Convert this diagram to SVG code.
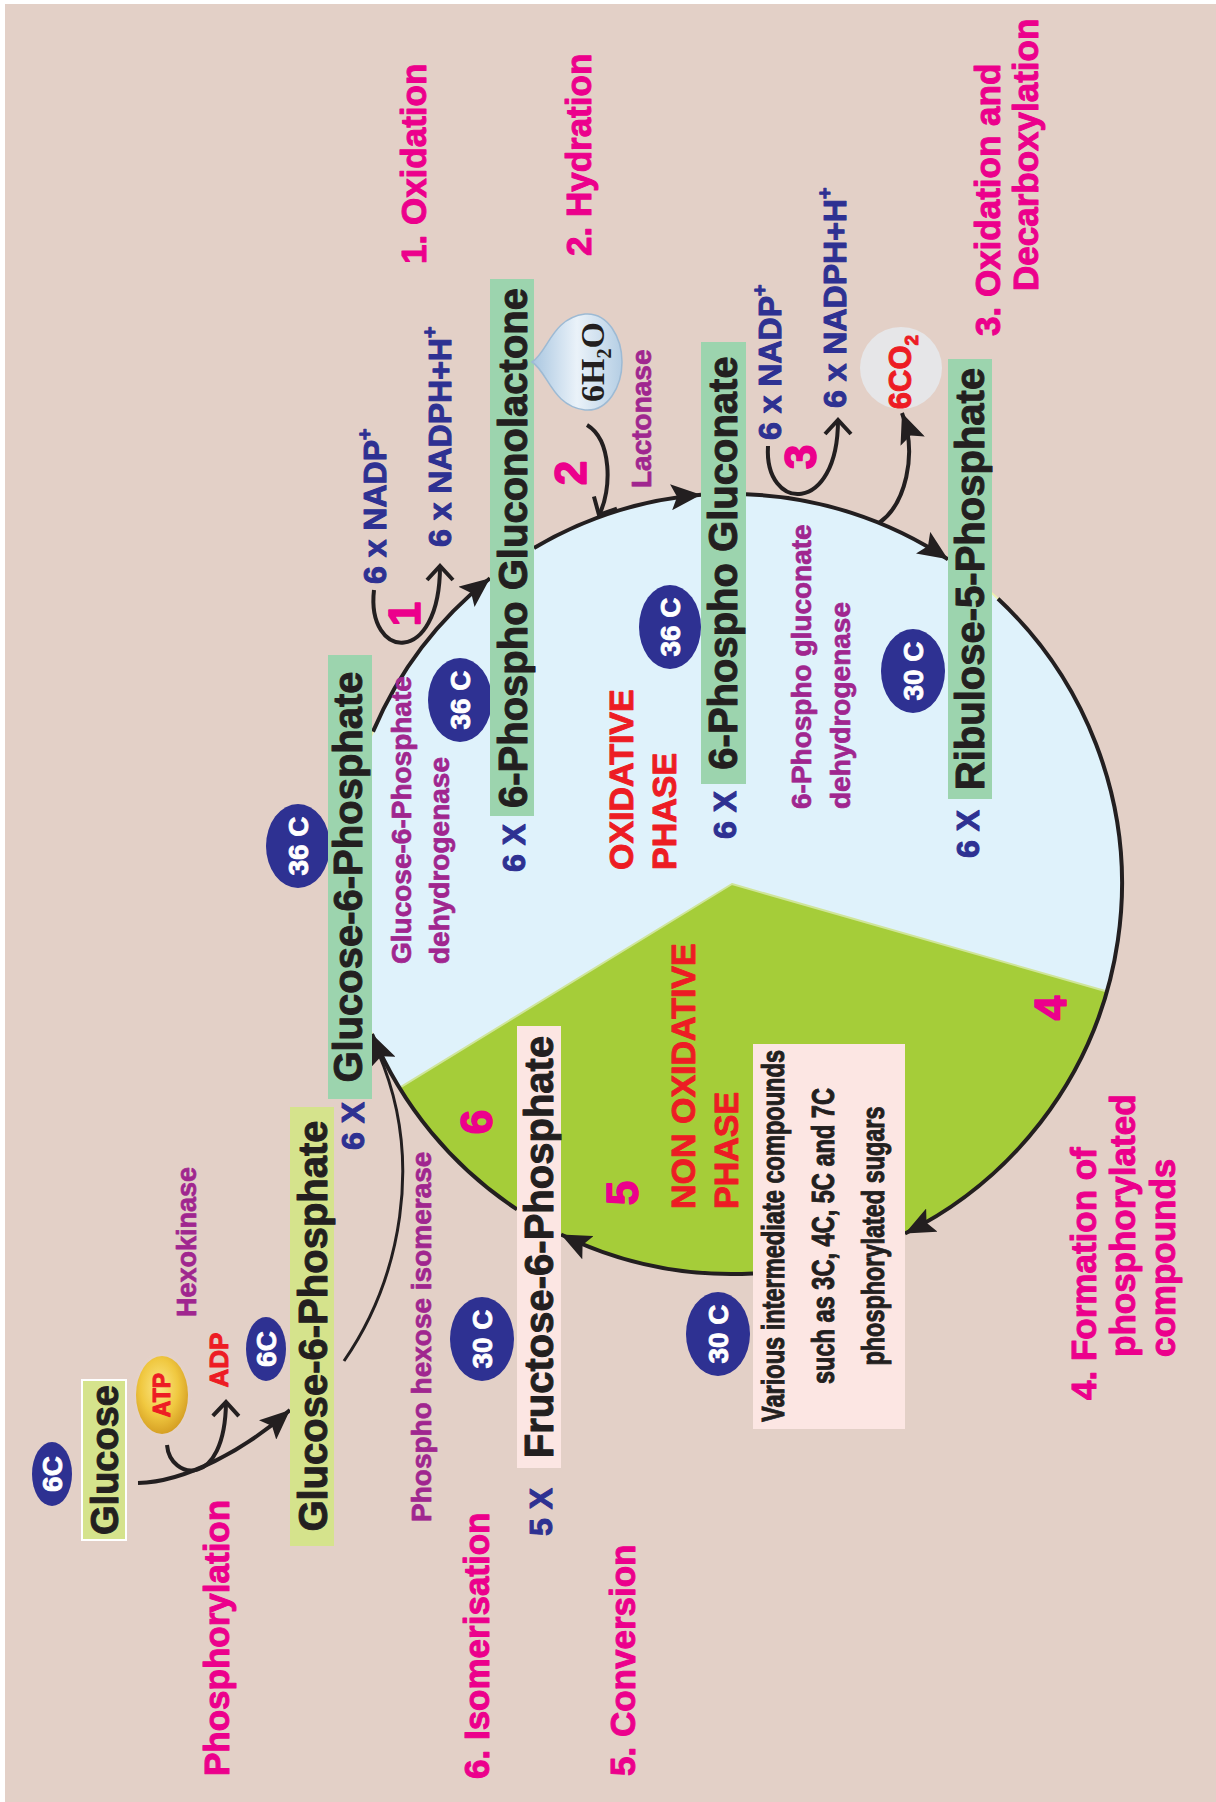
<svg xmlns="http://www.w3.org/2000/svg" width="1216" height="1802" viewBox="0 0 1216 1802">
  <style>
    .t { font-family: "Liberation Sans", Arial, Helvetica, sans-serif; font-weight: bold; stroke-width: 1px; stroke-linejoin: round; }
    .blk { fill: #231f20; stroke: #231f20; font-size: 40px; }
    .pk { fill: #ec008c; stroke: #ec008c; font-size: 35px; }
    .num { fill: #ec008c; stroke: #ec008c; font-size: 44px; stroke-width: 1.6px; }
    .nv { fill: #2e3192; stroke: #2e3192; font-size: 32px; }
    .pu { fill: #a0268f; stroke: #a0268f; font-size: 28px; stroke-width: 0.7px; }
    .rd { fill: #ed1c24; stroke: #ed1c24; font-size: 34px; }
    .wt { fill: #ffffff; stroke: #ffffff; font-size: 28px; stroke-width: 0.8px; }
    .ov { fill: #2e3192; }
    .gbox { fill: #9cd4ae; }
    .ybox { fill: #d5e38c; }
    .pbox { fill: #fce6e3; }
    .ln { fill: none; stroke: #231f20; stroke-width: 4; }
    .thin { fill: none; stroke: #231f20; stroke-width: 3; }
    .narrow { font-family: "Liberation Sans Narrow", "Liberation Sans", Arial, sans-serif; font-weight: bold; fill: #231f20; stroke: #231f20; stroke-width: 1px; font-size: 31px; }
    .srf { font-family: "Liberation Serif", "Times New Roman", serif; font-weight: bold; fill: #231f20; font-size: 34px; }
  </style>
  <defs>
    <marker id="ah" markerUnits="userSpaceOnUse" markerWidth="32" markerHeight="26" refX="30" refY="13" orient="auto">
      <path d="M0,0 L30,13 L0,26 L6,13 Z" fill="#231f20"/>
    </marker>
    <marker id="av" markerUnits="userSpaceOnUse" markerWidth="24" markerHeight="32" refX="18" refY="16" orient="auto">
      <path d="M4,3 L18,16 L4,29" fill="none" stroke="#231f20" stroke-width="4"/>
    </marker>
    <radialGradient id="gold" cx="0.45" cy="0.4" r="0.6">
      <stop offset="0" stop-color="#fbe788"/>
      <stop offset="0.6" stop-color="#f0c840"/>
      <stop offset="1" stop-color="#d6a024"/>
    </radialGradient>
    <radialGradient id="halo" cx="0.5" cy="0.5" r="0.5">
      <stop offset="0.6" stop-color="#f2e4dc" stop-opacity="0.9"/>
      <stop offset="1" stop-color="#e3d0c7" stop-opacity="0"/>
    </radialGradient>
    <linearGradient id="drop" x1="0" y1="0" x2="1" y2="0">
      <stop offset="0" stop-color="#a9c6e0"/>
      <stop offset="0.5" stop-color="#eaf2f9"/>
      <stop offset="1" stop-color="#b5cee4"/>
    </linearGradient>
  </defs>

  <!-- page -->
  <rect x="0" y="0" width="1216" height="1802" fill="#ffffff"/>
  <rect x="5" y="4" width="1211" height="1798" fill="#e3d0c7"/>

  <!-- cycle disc: oxidative (blue) and non-oxidative (green) phases -->
  <g id="cycle-disc">
    <circle cx="732" cy="884" r="390" fill="#dff2fb" stroke="#eef0b0" stroke-width="2"/>
    <path d="M732,884 L1106.9,991.5 A390,390 0 0 1 399.5,1087.8 Z" fill="#a5cd39" stroke="#cfe59a" stroke-width="2"/>
  </g>

  <g id="connectors">
    <!-- cycle arcs -->
    <path class="ln" d="M373,731.6 A390,390 0 0 1 490,578.2" marker-end="url(#ah)"/>
    <path class="ln" d="M534,548 A390,390 0 0 1 701,494.8" marker-end="url(#ah)"/>
    <path class="ln" d="M746,494.3 A390,390 0 0 1 948,559.3" marker-end="url(#ah)"/>
    <path class="ln" d="M998,598.8 A390,390 0 0 1 905,1233.5" marker-end="url(#ah)"/>
    <path class="ln" d="M753,1273.4 A390,390 0 0 1 561,1234.5" marker-end="url(#ah)"/>
    <path class="ln" d="M517,1209.4 A390,390 0 0 1 372,1034" marker-end="url(#ah)"/>
    <!-- glucose phosphorylation -->
    <path class="ln" d="M138,1483 C185,1482 245,1450 290,1410" marker-end="url(#ah)"/>
    <path class="ln" d="M167,1445 C170,1480 225,1490 226,1402" marker-end="url(#av)"/>
    <!-- glucose-6-phosphate into the cycle -->
    <path class="thin" d="M344,1361 C400,1280 425,1160 378,1052"/>
    <!-- step 1 NADP loop -->
    <path class="ln" d="M374,590 C366,660 440,668 440,566" marker-end="url(#av)"/>
    <!-- step 2 water -->
    <path class="ln" d="M587,425 C612,440 612,490 599,515" marker-end="url(#av)"/>
    <!-- step 3 NADP loop and CO2 release -->
    <path class="ln" d="M768,446 C764,512 838,516 838,420" marker-end="url(#av)"/>
    <path class="ln" d="M879,523 C905,505 918,455 902,413" marker-end="url(#ah)"/>
  </g>

  <!-- glucose -->
  <g id="glucose">
    <ellipse class="ov" cx="52" cy="1474" rx="20" ry="32"/>
    <text class="t wt" x="62" y="1474" text-anchor="middle" transform="rotate(-90 62 1474)">6C</text>
    <rect class="ybox" x="82" y="1380" width="44" height="160" stroke="#ffffff" stroke-width="2"/>
    <text class="t blk" style="font-size:38px" x="118" y="1460" text-anchor="middle" transform="rotate(-90 118 1460)">Glucose</text>
  </g>

  <g id="atp">
    <rect x="132" y="1350" width="60" height="90" rx="20" fill="url(#halo)"/>
    <ellipse cx="162" cy="1395" rx="26" ry="39" fill="url(#gold)"/>
    <text class="t" fill="#ed1c24" stroke="#ed1c24" stroke-width="0.6" font-size="23" x="170" y="1395" text-anchor="middle" transform="rotate(-90 170 1395)">ATP</text>
  </g>
  <g id="adp">
    <text class="t" fill="#ed1c24" stroke="#ed1c24" font-size="26" x="228" y="1360" text-anchor="middle" transform="rotate(-90 228 1360)">ADP</text>
  </g>
  <g id="hexokinase">
    <text class="t pu" style="font-size:27px" x="196" y="1317" transform="rotate(-90 196 1317)">Hexokinase</text>
  </g>
  <g id="phosphorylation">
    <text class="t pk" x="229" y="1776" transform="rotate(-90 229 1776)">Phosphorylation</text>
  </g>

  <!-- glucose-6-phosphate (from glucose) -->
  <g id="g6p-start">
    <ellipse class="ov" cx="266" cy="1349" rx="20" ry="32"/>
    <text class="t wt" x="276" y="1349" text-anchor="middle" transform="rotate(-90 276 1349)">6C</text>
    <rect class="ybox" x="290" y="1107" width="44" height="439"/>
    <text class="t blk" x="327" y="1326" text-anchor="middle" transform="rotate(-90 327 1326)">Glucose-6-Phosphate</text>
  </g>

  <!-- glucose-6-phosphate in the cycle -->
  <g id="g6p">
    <ellipse class="ov" cx="298" cy="846" rx="32" ry="42"/>
    <text class="t wt" x="308" y="846" text-anchor="middle" transform="rotate(-90 308 846)">36 C</text>
    <rect class="gbox" x="328" y="655" width="44" height="444"/>
    <text class="t blk" x="362" y="877" text-anchor="middle" transform="rotate(-90 362 877)">Glucose-6-Phosphate</text>
    <text class="t nv" x="364" y="1126" text-anchor="middle" transform="rotate(-90 364 1126)">6 X</text>
  </g>
  <g id="g6pd">
    <text class="t pu" x="411" y="964" transform="rotate(-90 411 964)">Glucose-6-Phosphate</text>
    <text class="t pu" x="449" y="964" transform="rotate(-90 449 964)">dehydrogenase</text>
  </g>

  <!-- step 1 -->
  <g id="step1">
    <text class="t num" x="420" y="614" text-anchor="middle" transform="rotate(-90 420 614)">1</text>
    <text class="t nv" x="386" y="584" transform="rotate(-90 386 584)">6 x NADP<tspan font-size="20" dy="-14">+</tspan></text>
    <text class="t nv" x="451" y="547" transform="rotate(-90 451 547)">6 x NADPH+H<tspan font-size="20" dy="-14">+</tspan></text>
    <text class="t pk" x="426" y="264" transform="rotate(-90 426 264)">1. Oxidation</text>
  </g>

  <!-- 6-phospho gluconolactone -->
  <g id="gluconolactone">
    <ellipse class="ov" cx="460" cy="700" rx="32" ry="42"/>
    <text class="t wt" x="470" y="700" text-anchor="middle" transform="rotate(-90 470 700)">36 C</text>
    <rect class="gbox" x="490" y="279" width="44" height="537"/>
    <text class="t blk" x="527" y="548" text-anchor="middle" transform="rotate(-90 527 548)">6-Phospho Gluconolactone</text>
    <text class="t nv" x="525" y="848" text-anchor="middle" transform="rotate(-90 525 848)">6 X</text>
  </g>

  <!-- step 2 -->
  <g id="step2">
    <text class="t num" x="586" y="473" text-anchor="middle" transform="rotate(-90 586 473)">2</text>
    <text class="t pk" x="591" y="256" transform="rotate(-90 591 256)">2. Hydration</text>
    <path d="M532,362 C548,352 552,318 585,314 C608,312 622,338 622,362 C622,386 608,412 585,410 C552,406 548,372 532,362 Z" fill="url(#drop)" stroke="#9dbad4" stroke-width="1.5"/>
    <text class="srf" x="604" y="362" text-anchor="middle" transform="rotate(-90 604 362)">6H<tspan font-size="20" dy="7">2</tspan><tspan dy="-7">O</tspan></text>
    <text class="t pu" x="651" y="488" transform="rotate(-90 651 488)">Lactonase</text>
  </g>

  <!-- 6-phospho gluconate -->
  <g id="gluconate">
    <ellipse class="ov" cx="670" cy="627" rx="31" ry="42"/>
    <text class="t wt" x="680" y="627" text-anchor="middle" transform="rotate(-90 680 627)">36 C</text>
    <rect class="gbox" x="701" y="342" width="45" height="442"/>
    <text class="t blk" x="737" y="563" text-anchor="middle" transform="rotate(-90 737 563)">6-Phospho Gluconate</text>
    <text class="t nv" x="736" y="815" text-anchor="middle" transform="rotate(-90 736 815)">6 X</text>
  </g>

  <g id="oxidative-phase">
    <text class="t rd" x="633" y="870" transform="rotate(-90 633 870)">OXIDATIVE</text>
    <text class="t rd" x="676" y="870" transform="rotate(-90 676 870)">PHASE</text>
  </g>

  <g id="pgd">
    <text class="t pu" x="811" y="809" transform="rotate(-90 811 809)">6-Phospho gluconate</text>
    <text class="t pu" x="850" y="809" transform="rotate(-90 850 809)">dehydrogenase</text>
  </g>

  <!-- step 3 -->
  <g id="step3">
    <text class="t num" x="816" y="457" text-anchor="middle" transform="rotate(-90 816 457)">3</text>
    <text class="t nv" x="781" y="440" transform="rotate(-90 781 440)">6 x NADP<tspan font-size="20" dy="-14">+</tspan></text>
    <text class="t nv" x="846" y="408" transform="rotate(-90 846 408)">6 x NADPH+H<tspan font-size="20" dy="-14">+</tspan></text>
    <circle cx="901" cy="368" r="41" fill="#e6e6e8"/>
    <text class="t" fill="#ed1c24" stroke="#ed1c24" font-size="31" x="911" y="372" text-anchor="middle" transform="rotate(-90 911 372)">6CO<tspan font-size="19" dy="7">2</tspan></text>
    <text class="t pk" x="1000" y="336" transform="rotate(-90 1000 336)">3. Oxidation and</text>
    <text class="t pk" x="1038" y="291" transform="rotate(-90 1038 291)">Decarboxylation</text>
  </g>

  <!-- ribulose-5-phosphate -->
  <g id="ribulose">
    <ellipse class="ov" cx="913" cy="671" rx="32" ry="42"/>
    <text class="t wt" x="923" y="671" text-anchor="middle" transform="rotate(-90 923 671)">30 C</text>
    <rect class="gbox" x="948" y="359" width="44" height="440"/>
    <text class="t blk" x="984" y="579" text-anchor="middle" transform="rotate(-90 984 579)">Ribulose-5-Phosphate</text>
    <text class="t nv" x="979" y="834" text-anchor="middle" transform="rotate(-90 979 834)">6 X</text>
  </g>

  <!-- step 4 -->
  <g id="step4">
    <text class="t num" x="1066" y="1008" text-anchor="middle" transform="rotate(-90 1066 1008)">4</text>
    <text class="t pk" x="1096" y="1400" transform="rotate(-90 1096 1400)">4. Formation of</text>
    <text class="t pk" x="1135" y="1357" transform="rotate(-90 1135 1357)">phosphorylated</text>
    <text class="t pk" x="1175" y="1357" transform="rotate(-90 1175 1357)">compounds</text>
  </g>

  <g id="non-oxidative-phase">
    <text class="t rd" x="695" y="1209" transform="rotate(-90 695 1209)">NON OXIDATIVE</text>
    <text class="t rd" x="738" y="1209" transform="rotate(-90 738 1209)">PHASE</text>
  </g>

  <!-- intermediate sugars -->
  <g id="intermediates">
    <ellipse class="ov" cx="718" cy="1334" rx="32" ry="42"/>
    <text class="t wt" x="728" y="1334" text-anchor="middle" transform="rotate(-90 728 1334)">30 C</text>
    <rect class="pbox" x="753" y="1044" width="152" height="385"/>
    <text class="narrow" x="784" y="1236" text-anchor="middle" textLength="372" lengthAdjust="spacingAndGlyphs" transform="rotate(-90 784 1236)">Various intermediate compounds</text>
    <text class="narrow" x="834" y="1236" text-anchor="middle" textLength="296" lengthAdjust="spacingAndGlyphs" transform="rotate(-90 834 1236)">such as 3C, 4C, 5C and 7C</text>
    <text class="narrow" x="884" y="1236" text-anchor="middle" textLength="259" lengthAdjust="spacingAndGlyphs" transform="rotate(-90 884 1236)">phosphorylated sugars</text>
  </g>

  <!-- step 5 -->
  <g id="step5">
    <text class="t num" x="638" y="1193" text-anchor="middle" transform="rotate(-90 638 1193)">5</text>
    <text class="t pk" x="635" y="1776" transform="rotate(-90 635 1776)">5. Conversion</text>
  </g>

  <!-- fructose-6-phosphate -->
  <g id="fructose">
    <ellipse class="ov" cx="482" cy="1339" rx="32" ry="42"/>
    <text class="t wt" x="492" y="1339" text-anchor="middle" transform="rotate(-90 492 1339)">30 C</text>
    <rect class="pbox" x="517" y="1026" width="44" height="442"/>
    <text class="t blk" x="553" y="1247" text-anchor="middle" transform="rotate(-90 553 1247)">Fructose-6-Phosphate</text>
    <text class="t nv" x="552" y="1512" text-anchor="middle" transform="rotate(-90 552 1512)">5 X</text>
  </g>

  <!-- step 6 -->
  <g id="step6">
    <text class="t num" x="492" y="1122" text-anchor="middle" transform="rotate(-90 492 1122)">6</text>
    <text class="t pu" x="431" y="1522" transform="rotate(-90 431 1522)">Phospho hexose isomerase</text>
    <text class="t pk" x="489" y="1779" transform="rotate(-90 489 1779)">6. Isomerisation</text>
  </g>
</svg>
